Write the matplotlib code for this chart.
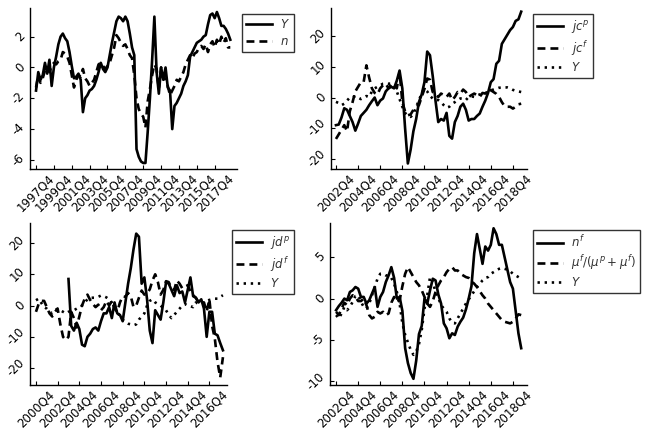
import numpy as np
import matplotlib
matplotlib.use("Agg")
import matplotlib.pyplot as plt

plt.rcParams['axes.unicode_minus'] = False
plt.rcParams['font.family'] = ['DejaVu Sans']

# ---------------- Panel 1: Y and n ----------------
p1_Y = [-1.5, -0.3, -0.8, -0.5, 0.3, -0.4, 0.5, -1.2, 0.0, 0.7,
        1.5, 2.0, 2.2, 1.9, 1.7, 1.0, 0.1, -0.7, -0.6, -0.4,
        -0.8, -2.9, -2.0, -1.8, -1.5, -1.4, -1.2, -0.8, -0.3, 0.3,
        -0.1, -0.3, 0.0, 0.8, 1.6, 2.3, 3.0, 3.3, 3.2, 3.0,
        3.3, 3.0, 2.2, 1.3, 0.8, -5.3, -5.8, -6.1, -6.2, -6.2,
        -4.2, -2.0, 0.5, 3.3, -0.3, -1.7, 0.0, -0.8, 0.0, -1.3,
        -1.5, -4.0, -2.5, -2.3, -2.0, -1.7, -1.2, -0.9, -0.5, 0.7,
        1.0, 1.3, 1.6, 1.7, 1.8, 2.0, 2.1, 2.8, 3.4, 3.5,
        3.2, 3.6, 3.2, 2.7, 2.7, 2.5, 2.2, 1.8]
p1_n = [-1.3, -0.5, -1.0, -0.7, -0.2, 0.0, -0.3, 0.1, 0.3, 0.2,
        0.4, 0.5, 1.0, 0.9, 0.7, 0.3, -0.5, -1.3, -0.8, -0.5,
        -0.6, -0.1, -0.7, -0.9, -1.2, -1.0, -0.8, -0.3, 0.2, 0.3,
        0.1, -0.1, 0.1, 0.3, 0.8, 1.3, 2.1, 1.9, 1.6, 1.4,
        1.5, 1.2, 0.8, 0.6, -0.5, -2.0, -2.7, -3.0, -3.2, -3.9,
        -2.2, -1.4, -0.5, 0.2, -0.1, -1.4, 0.0, -0.5, -0.8, -1.2,
        -1.8, -1.5, -1.2, -0.8, -0.9, -0.6, -0.3, 0.2, 0.5, 0.8,
        0.6, 0.9, 1.0, 1.3, 1.4, 1.2, 1.5, 1.0, 1.5, 1.7,
        1.3, 1.8, 1.5, 2.0, 1.6, 1.9, 1.3, 1.3]
p1_ticklabels = ['1997Q4', '1999Q4', '2001Q4', '2003Q4', '2005Q4', '2007Q4',
                 '2009Q4', '2011Q4', '2013Q4', '2015Q4', '2017Q4']

# ---------------- Panel 2: jc^p, jc^f, Y ----------------
p2_jcp = [-9.0, -8.8, -6.5, -3.5, -4.0, -6.0, -8.0, -10.8, -8.5, -6.0,
          -5.0, -4.0, -2.5, -1.2, 0.0, -2.5, -1.0, -0.3, 2.0, 3.0,
          3.5, 3.0, 5.5, 8.8, 3.0, -10.0, -21.5, -17.0, -11.0, -7.0,
          -1.5, 1.0, 5.0, 15.0, 13.8, 7.0, -1.0, -8.0, -7.0, -7.5,
          -5.0, -12.5, -13.4, -8.0, -6.0, -3.0, -2.0, -4.0, -7.5, -7.0,
          -7.0, -6.0, -5.2, -3.0, -1.0, 1.5, 5.0, 6.0, 11.0, 12.0,
          17.5, 19.0, 20.5, 22.0, 23.0, 25.0, 25.5, 28.0]
p2_jcf = [-13.5, -12.0, -10.5, -9.0, -11.0, -4.5, -1.5, 2.0, 3.5, 5.0,
          5.0, 10.5, 6.5, 3.0, 1.5, 1.0, 3.0, 4.0, 4.5, 3.0,
          4.5, 4.0, 3.0, 8.3, -1.5, -4.5, -5.8, -5.5, -4.0, -3.0,
          -2.5, 0.2, 2.8, 6.2, 5.8, 1.8, 1.2, 0.2, 1.3, 0.8,
          0.2, 1.3, -0.8, 0.2, 1.8, 1.3, 2.6, 1.8, 0.2, 0.8,
          1.3, 0.8, 0.2, 1.5, 1.3, 2.4, 2.4, 1.8, 1.2, 0.2,
          -1.5, -2.8, -3.0, -3.0, -3.6, -3.0, -2.2, -2.0]
p2_Y = [-1.4, -1.8, -2.5, -2.0, -1.0, 0.0, 0.0, 0.5, 0.0, -0.5,
        0.0, 0.5, 0.2, 2.0, 3.0, 3.5, 4.0, 4.5, 4.6, 4.5,
        4.6, 3.5, 2.0, -0.5, -3.0, -5.0, -6.0, -6.3, -5.5, -3.0,
        -1.0, 1.5, 2.9, 2.0, 0.5, -0.3, -0.8, -0.8, -1.5, -2.5,
        -3.3, -3.0, -2.0, -1.5, -0.8, -0.3, -0.3, -0.8, 0.2, 0.4,
        0.2, 0.7, 1.0, 1.2, 1.5, 1.8, 2.4, 2.6, 2.9, 3.2,
        3.2, 3.3, 3.3, 3.0, 2.5, 2.2, 2.0, 1.8]
p2_ticklabels = ['2002Q4', '2004Q4', '2006Q4', '2008Q4', '2010Q4',
                 '2012Q4', '2014Q4', '2016Q4', '2018Q4']

# ---------------- Panel 3: jd^p, jd^f, Y ----------------
nan = np.nan
p3_jdp = [nan, nan, nan, nan, nan, nan, nan, nan, nan, nan,
          nan, nan, 8.5, -6.5, -8.0, -5.5, -7.5, -12.5, -13.0, -10.0,
          -9.0, -7.5, -7.0, -8.0, -5.0, -2.5, -2.5, -0.5, -4.0, 1.0,
          -2.5, -3.0, -5.0, 1.0, 7.0, 12.0, 18.0, 23.0, 22.0, 7.0,
          9.0, 2.0, -8.0, -12.0, -1.5, -3.0, -4.5, 1.0, 7.5, 7.0,
          5.0, 3.0, 6.5, 4.0, 4.5, 1.0, 5.0, 9.0, 3.0, 2.5,
          1.0, 2.0, -1.0, -10.0, -2.0, -2.0, -9.0, -9.5, -12.0, -14.3]
p3_jdf = [-2.0, 0.5, 1.5, 1.5, -0.5, -2.5, -3.5, -2.0, -1.0, -6.0,
          -10.0, -11.0, -10.0, -2.0, -4.0, -7.0, -3.5, 0.0, 2.2, 3.5,
          1.8, 0.5, -0.5, 0.3, -1.5, -0.5, 1.5, 0.0, 1.5, -1.0,
          -2.0, 1.0, 3.0, 2.8, 4.0, 3.0, -0.5, 0.0, 2.5, 4.8,
          3.5, 3.8, 5.2, 8.0, 10.0, 7.5, 3.5, 5.0, 7.8, 7.5,
          5.5, 5.0, 8.0, 7.0, 5.5, 6.0, 6.5, 4.5, 3.3, 2.5,
          1.0, 1.0, 1.0, -2.0, 2.0, -6.5, -10.5, -18.0, -23.0, -16.5]
p3_Y = [1.7, 2.2, 0.8, -0.5, -1.0, -2.0, -2.5, -1.5, -1.0, -1.5,
        -2.0, -2.5, -2.0, -1.7, -1.5, -1.0, -0.5, 0.0, 1.0, 2.0,
        2.5, 2.5, 2.5, 2.8, 3.2, 3.0, 2.6, 2.0, 1.0, -0.5,
        -2.0, -3.5, -4.5, -5.3, -5.8, -6.0, -6.3, -6.0, -4.5, -3.5,
        -2.5, 0.0, 1.5, 2.0, 1.0, 0.5, 0.0, -0.8, -1.5, -3.0,
        -4.0, -3.0, -2.0, -1.0, 0.0, 0.5, 0.0, -0.2, -0.5, 1.0,
        0.5, 0.5, 1.0, 1.5, 1.8, 2.0, 2.2, 2.2, 2.8, 3.3]
p3_ticklabels = ['2000Q4', '2002Q4', '2004Q4', '2006Q4', '2008Q4',
                 '2010Q4', '2012Q4', '2014Q4', '2016Q4']

# ---------------- Panel 4: n^f, mu ratio, Y ----------------
p4_nf = [-1.4, -0.9, -0.5, 0.0, -0.2, 0.8, 1.0, 1.4, 1.2, 0.2,
         0.2, -0.6, -0.2, 0.6, 1.4, -1.0, 0.2, 0.8, 2.0, 2.8,
         3.8, 2.5, 0.0, 0.2, -1.5, -6.0, -7.8, -9.0, -9.7, -7.5,
         -4.3, -3.3, 0.0, -0.6, 1.0, 2.4, 2.2, 0.5, -0.6, -3.0,
         -3.6, -4.8, -4.2, -4.4, -3.4, -2.8, -2.3, -1.3, 0.0, 1.5,
         5.5, 7.8, 6.0, 4.2, 6.3, 5.8, 6.5, 8.5, 7.8, 6.5,
         6.5, 5.0, 3.5, 2.0, 1.2, -1.5, -4.2, -6.0]
p4_mu = [-1.6, -2.0, -1.2, -0.5, -0.8, 0.0, 0.4, 0.2, -0.3, -0.3,
         0.0, -0.8, -2.0, -2.4, -2.2, -1.6, -1.8, -1.6, -2.0, -1.8,
         -0.5, 0.2, -0.4, -0.2, 1.5, 3.0, 3.8, 3.2, 2.6, 2.0,
         1.6, 1.0, 0.2, -0.6, -1.0, -0.3, 0.8, 1.6, 2.2, 2.6,
         3.2, 3.6, 3.8, 3.4, 3.4, 3.0, 2.8, 2.6, 2.5, 2.1,
         1.8, 1.4, 0.9, 0.4, 0.0, -0.6, -1.0, -1.4, -1.8, -2.2,
         -2.6, -2.8, -2.9, -3.0, -2.8, -2.4, -1.9, -2.0]
p4_Y = [-2.0, -2.4, -1.8, -1.0, -1.4, -1.0, -0.4, 0.3, 0.4, -0.4,
        -1.0, -1.2, -0.6, 0.4, 1.4, 2.4, 3.0, 3.0, 2.8, 2.8,
        2.5, 1.8, 0.8, -0.6, -3.0, -4.4, -5.3, -6.2, -6.8, -6.4,
        -5.5, -3.8, -1.2, 0.4, 2.6, 2.0, 0.8, 0.1, -0.8, -1.2,
        -1.6, -2.4, -2.9, -3.0, -2.4, -1.8, -1.2, -0.6, -0.1, 0.4,
        0.9, 1.4, 1.8, 2.2, 2.5, 2.6, 3.0, 3.2, 3.4, 3.6,
        3.7, 3.6, 3.5, 3.3, 3.0, 2.8, 2.6, 2.4]
p4_ticklabels = p2_ticklabels

W, H = 645, 436
fig = plt.figure(figsize=(W / 100, H / 100), dpi=100)


def fr(l, t, r, b):
    return [l / W, 1 - b / H, (r - l) / W, (b - t) / H]


LW = 1.9
solid = dict(color='black', lw=LW, ls='-')
dashed = dict(color='black', lw=LW, ls=(0, (3.0, 1.9)))
dotted = dict(color='black', lw=LW, ls=(0, (0.9, 1.8)))


def style(ax, xlabels, xlim, ylim, yticks):
    for s in ['top', 'right']:
        ax.spines[s].set_visible(False)
    for s in ['left', 'bottom']:
        ax.spines[s].set_linewidth(1.0)
    ax.set_xlim(*xlim)
    ax.set_ylim(*ylim)
    ax.set_xticks(np.arange(len(xlabels)) * 8)
    ax.set_xticklabels(xlabels, rotation=45, ha='center', va='top')
    ax.set_yticks(yticks)
    ax.set_yticklabels([str(v) for v in yticks], rotation=45, ha='right', va='center')
    ax.tick_params(direction='in', length=3, width=0.8, labelsize=8.5, pad=2)
    ax.tick_params(axis='x', pad=2)


def legend(ax, anchor):
    lg = ax.legend(loc='upper left', bbox_to_anchor=(anchor[0] / W, 1 - anchor[1] / H),
                   bbox_transform=fig.transFigure, fontsize=8.5, frameon=True,
                   fancybox=False, edgecolor='black', handlelength=2.2,
                   labelspacing=0.3, borderpad=0.35, handletextpad=0.65,
                   borderaxespad=0)
    lg.get_frame().set_linewidth(1.0)
    for t in lg.get_texts():
        t.set_color('#333333')


# Panel 1
ax1 = fig.add_axes(fr(30, 8, 237, 169))
x1 = np.arange(len(p1_Y))
ax1.plot(x1, p1_Y, label='$Y$', **solid)
ax1.plot(x1, p1_n, label='$n$', **dashed)
style(ax1, p1_ticklabels, (-2.7, 90.0), (-6.59, 3.86), [-6, -4, -2, 0, 2])
legend(ax1, (242, 14))

# Panel 2
ax2 = fig.add_axes(fr(331, 8, 527, 169))
x2 = np.arange(len(p2_jcp))
ax2.plot(x2, p2_jcp, label='$jc^p$', **solid)
ax2.plot(x2, p2_jcf, label='$jc^f$', **dashed)
ax2.plot(x2, p2_Y, label='$Y$', **dotted)
style(ax2, p2_ticklabels, (-1.8, 69.1), (-23.3, 29.2), [-20, -10, 0, 10, 20])
legend(ax2, (533, 14))

# Panel 3
ax3 = fig.add_axes(fr(30, 223, 227, 385))
x3 = np.arange(len(p3_jdp))
ax3.plot(x3, p3_jdp, label='$jd^p$', **solid)
ax3.plot(x3, p3_jdf, label='$jd^f$', **dashed)
ax3.plot(x3, p3_Y, label='$Y$', **dotted)
style(ax3, p3_ticklabels, (-2.2, 70.5), (-25.4, 26.4), [-20, -10, 0, 10, 20])
legend(ax3, (232, 230))

# Panel 4
ax4 = fig.add_axes(fr(330, 223, 527, 385))
x4 = np.arange(len(p4_nf))
ax4.plot(x4, p4_nf, label='$n^f$', **solid)
ax4.plot(x4, p4_mu, label='$\\mu^f/(\\mu^p+\\mu^f)$', **dashed)
ax4.plot(x4, p4_Y, label='$Y$', **dotted)
style(ax4, p4_ticklabels, (-2.2, 69.1), (-10.45, 9.14), [-10, -5, 0, 5])
legend(ax4, (533, 230))

fig.savefig('out.png', dpi=100)
